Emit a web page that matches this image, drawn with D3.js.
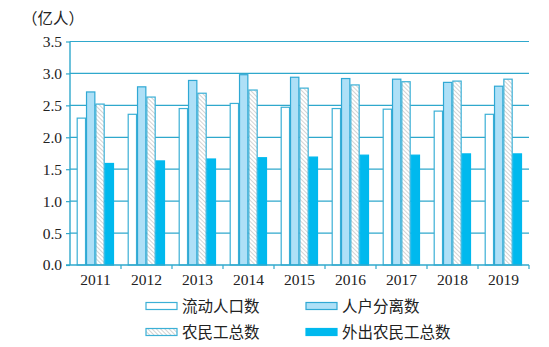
<!DOCTYPE html>
<html>
<head>
<meta charset="utf-8">
<script src="https://cdn.jsdelivr.net/npm/d3@7"></script>
<style>
  html, body { margin: 0; padding: 0; background: #fff; }
  svg { display: block; }
</style>
</head>
<body>
<svg id="chart" width="549" height="347"></svg>
<script>
// Population figures, 100 million people
const years = ["2011", "2012", "2013", "2014", "2015", "2016", "2017", "2018", "2019"];
const seriesNames = ["流动人口数", "人户分离数", "农民工总数", "外出农民工总数"];
const floating  = [2.30, 2.36, 2.45, 2.53, 2.47, 2.45, 2.44, 2.41, 2.36];
const separated = [2.71, 2.79, 2.89, 2.98, 2.94, 2.92, 2.91, 2.86, 2.80];
const migrantTotal = [2.52, 2.63, 2.69, 2.74, 2.77, 2.82, 2.87, 2.88, 2.91];
const migrantOut = [1.59, 1.63, 1.66, 1.68, 1.69, 1.72, 1.72, 1.74, 1.74];
const yTicks = [0, 0.5, 1.0, 1.5, 2.0, 2.5, 3.0, 3.5];
const unitLabel = "（亿人）";

const seriesValues = [floating, separated, migrantTotal, migrantOut];
const axisColor = "#2fa8cc";
const styles = [
  { fill: "#ffffff", stroke: "#3bb0d6" },
  { fill: "#aee0f7", stroke: "#2fa8d4" },
  { fill: "url(#hatch)", stroke: "#3bb0d6" },
  { fill: "#00b9ee", stroke: "#00b9ee" }
];

const svg = d3.select("#chart");
const margin = { left: 70, right: 20, top: 41.5, bottom: 82 };

const defs = svg.append("defs");
const pat = defs.append("pattern")
  .attr("id", "hatch").attr("patternUnits", "userSpaceOnUse")
  .attr("width", 3).attr("height", 3)
  .attr("patternTransform", "rotate(-45)");
pat.append("rect").attr("width", 3).attr("height", 3).attr("fill", "#ffffff");
pat.append("line").attr("x1", 0).attr("y1", 0).attr("x2", 0).attr("y2", 3)
  .attr("stroke", "#b5b5b5").attr("stroke-width", 1.2);

const x = d3.scaleBand().domain(years).range([margin.left, 529]).paddingInner(0).paddingOuter(0);
const x1 = d3.scaleBand().domain(d3.range(4)).range([6.7, x.bandwidth() - 7]).padding(0);
const y = d3.scaleLinear().domain([0, 3.5]).range([265, margin.top]);

// horizontal gridlines
svg.append("g").selectAll("line").data(yTicks.filter(d => d > 0)).join("line")
  .attr("x1", margin.left).attr("x2", 529)
  .attr("y1", d => y(d)).attr("y2", d => y(d))
  .attr("stroke", axisColor).attr("stroke-width", 1.2);

// bars
const groups = svg.append("g").selectAll("g").data(years).join("g")
  .attr("transform", d => `translate(${x(d)},0)`);
groups.selectAll("rect")
  .data((yr, i) => seriesValues.map((vals, s) => ({ s, v: vals[i] })))
  .join("rect")
  .attr("x", d => x1(d.s) + 0.5)
  .attr("width", x1.bandwidth() - 1)
  .attr("y", d => y(d.v))
  .attr("height", d => y(0) - y(d.v))
  .attr("fill", d => styles[d.s].fill)
  .attr("stroke", d => styles[d.s].stroke)
  .attr("stroke-width", 1.2);

// y axis
const yAxis = d3.axisLeft(y).tickValues(yTicks).tickFormat(d3.format(".1f")).tickSize(4).tickPadding(4);
const gy = svg.append("g").attr("transform", `translate(${margin.left},0)`).call(yAxis);
gy.select(".domain").attr("stroke", axisColor).attr("stroke-width", 1.4).attr("d", `M0,${y(3.5)}V${y(0)}`);
gy.selectAll(".tick line").attr("stroke", axisColor).attr("stroke-width", 1.2);
gy.selectAll(".tick text").attr("fill", "#222").attr("font-family", "Liberation Serif, serif").attr("font-size", 15.5);

// x axis with tick marks at category boundaries
const gx = svg.append("g").attr("transform", `translate(0,${y(0)})`)
  .call(d3.axisBottom(x).tickSize(0).tickPadding(9));
gx.select(".domain").attr("stroke", axisColor).attr("stroke-width", 1.4).attr("d", `M${margin.left - 4},0H529`);
gx.selectAll(".tick text").attr("fill", "#222").attr("font-family", "Liberation Serif, serif").attr("font-size", 15.5);
gx.append("g").selectAll("line").data(years.slice(1).concat(["end"])).join("line")
  .attr("x1", (d, i) => margin.left + (i + 1) * x.bandwidth())
  .attr("x2", (d, i) => margin.left + (i + 1) * x.bandwidth())
  .attr("y1", 0).attr("y2", 4)
  .attr("stroke", axisColor).attr("stroke-width", 1.2);

// unit label
svg.append("text").attr("x", 22).attr("y", 24)
  .attr("font-family", "Noto Sans CJK SC, sans-serif").attr("font-size", 15.5).attr("fill", "#222")
  .text(unitLabel);

// legend
const legendPos = [
  { x: 146, y: 306 }, { x: 306, y: 306 },
  { x: 146, y: 332 }, { x: 306, y: 332 }
];
const lg = svg.append("g").selectAll("g").data(seriesNames).join("g")
  .attr("transform", (d, i) => `translate(${legendPos[i].x},${legendPos[i].y})`);
lg.append("rect").attr("x", 0).attr("y", -3.5).attr("width", 31).attr("height", 7)
  .attr("fill", (d, i) => styles[i].fill).attr("stroke", (d, i) => styles[i].stroke).attr("stroke-width", 1.2);
lg.append("text").attr("x", 36).attr("y", 0).attr("dy", "0.36em")
  .attr("font-family", "Noto Sans CJK SC, sans-serif").attr("font-size", 15.5).attr("fill", "#222")
  .text(d => d);
</script>
</body>
</html>
